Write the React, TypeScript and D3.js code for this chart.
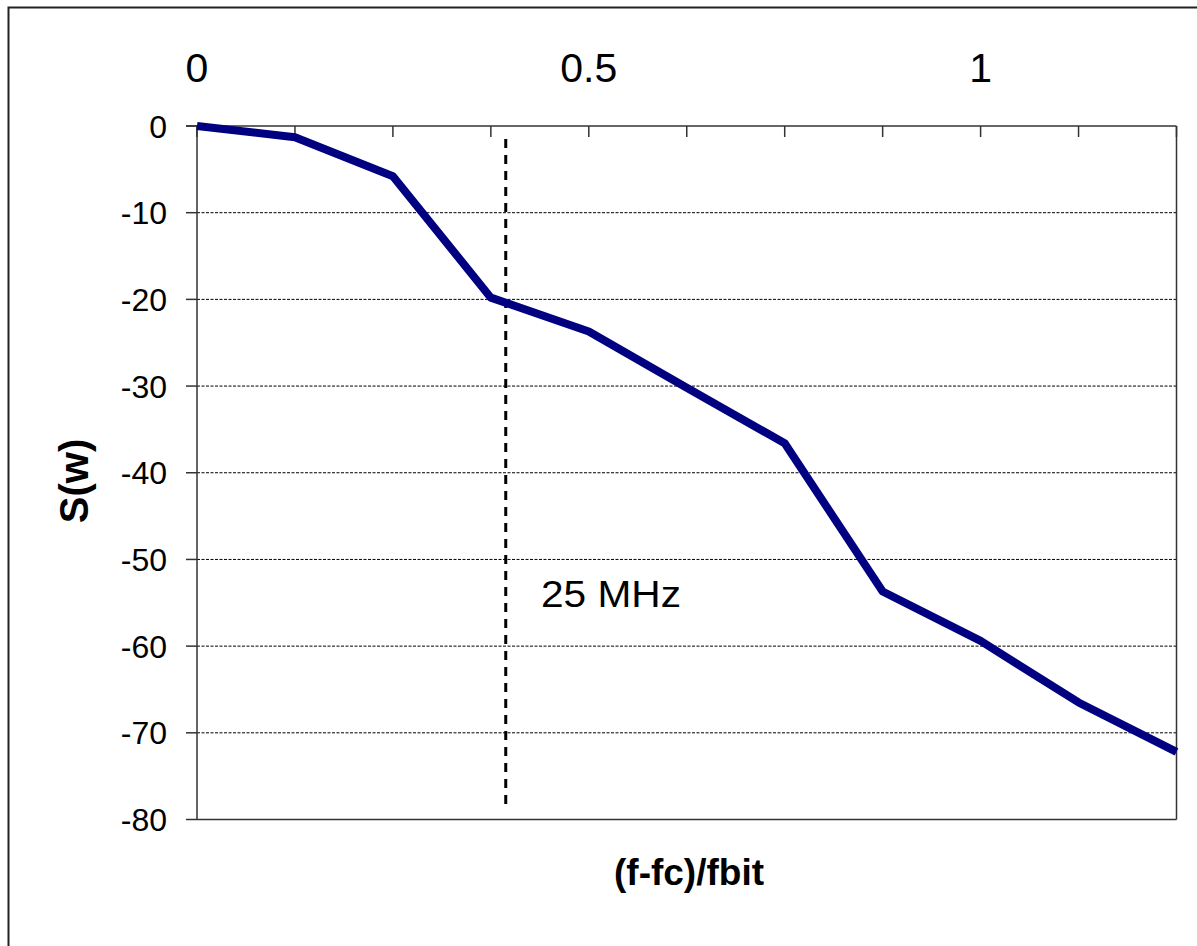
import React from "react";
import * as d3 from "d3";

// Data
const xCategories = [0, 0.125, 0.25, 0.375, 0.5, 0.625, 0.75, 0.875, 1, 1.125, 1.25];
const sValues = [0, -1.3, -5.8, -19.8, -23.7, -30.2, -36.6, -53.7, -59.4, -66.5, -72.2];
const xTickLabels = [0, 0.5, 1];
const yTicks = [0, -10, -20, -30, -40, -50, -60, -70, -80];
const markerX = 0.394;
const markerLabel = "25 MHz";
const xTitle = "(f-fc)/fbit";
const yTitle = "S(w)";

const W = 1197;
const H = 946;
const plot = { left: 197, right: 1176.5, top: 126, bottom: 819.5 };
const FONT = "Arial, 'Liberation Sans', Helvetica, sans-serif";

export default function App() {
  const x = d3.scaleLinear().domain([0, 1.25]).range([plot.left, plot.right]);
  const y = d3.scaleLinear().domain([0, -80]).range([plot.top, plot.bottom]);
  const line = d3
    .line<number>()
    .x((_, i) => x(xCategories[i]))
    .y((d) => y(d));

  return (
    <svg
      width={W}
      height={H}
      style={{ position: "absolute", left: 0, top: 0, background: "#fff" }}
      fontFamily={FONT}
    >
      <rect x={0} y={0} width={W} height={H} fill="#fff" />
      {/* outer chart frame (clipped on right/bottom) */}
      <rect x={8.5} y={7.5} width={1400} height={1200} fill="none" stroke="#222" strokeWidth={2} />

      {/* gridlines */}
      {yTicks
        .filter((t) => t !== 0 && t !== -80)
        .map((t) => (
          <line
            key={"g" + t}
            x1={plot.left}
            x2={plot.right}
            y1={y(t)}
            y2={y(t)}
            stroke="#000"
            strokeWidth={1}
            strokeDasharray="3,1.5"
          />
        ))}

      {/* plot border: bottom and right */}
      <line x1={plot.left} x2={plot.right} y1={plot.bottom} y2={plot.bottom} stroke="#333" strokeWidth={1.5} />
      <line x1={plot.right} x2={plot.right} y1={plot.top} y2={plot.bottom} stroke="#333" strokeWidth={1.5} />

      {/* left axis */}
      <line x1={plot.left} x2={plot.left} y1={plot.top} y2={plot.bottom} stroke="#333" strokeWidth={1.5} />
      {yTicks.map((t) => (
        <g key={"y" + t}>
          <line x1={plot.left - 11} x2={plot.left} y1={y(t)} y2={y(t)} stroke="#333" strokeWidth={1.5} />
          <text x={167} y={y(t)} dy="0.36em" textAnchor="end" fontSize={32} fill="#000">
            {t}
          </text>
        </g>
      ))}

      {/* top axis (value 0) with inward ticks */}
      <line x1={plot.left - 11} x2={plot.right} y1={y(0)} y2={y(0)} stroke="#333" strokeWidth={1.5} />
      {xCategories.map((c) => (
        <line key={"xt" + c} x1={x(c)} x2={x(c)} y1={y(0)} y2={y(0) + 11} stroke="#333" strokeWidth={1.5} />
      ))}
      {xTickLabels.map((v) => (
        <text key={"xl" + v} x={x(v)} y={82} textAnchor="middle" fontSize={41} fill="#000">
          {v}
        </text>
      ))}

      {/* marker line */}
      <line
        x1={x(markerX)}
        x2={x(markerX)}
        y1={139}
        y2={805}
        stroke="#000"
        strokeWidth={3}
        strokeDasharray="9,7"
      />
      <text x={541} y={607} fontSize={36} textLength={140} lengthAdjust="spacingAndGlyphs" fill="#000">
        {markerLabel}
      </text>

      {/* data line */}
      <path d={line(sValues) || ""} fill="none" stroke="#000080" strokeWidth={8} strokeLinejoin="round" />

      {/* axis titles */}
      <text x={689} y={885} textAnchor="middle" fontSize={37} fontWeight="bold" fill="#000">
        {xTitle}
      </text>
      <text
        transform={`translate(88,481) rotate(-90)`}
        textAnchor="middle"
        fontSize={40}
        fontWeight="bold"
        fill="#000"
      >
        {yTitle}
      </text>
    </svg>
  );
}
